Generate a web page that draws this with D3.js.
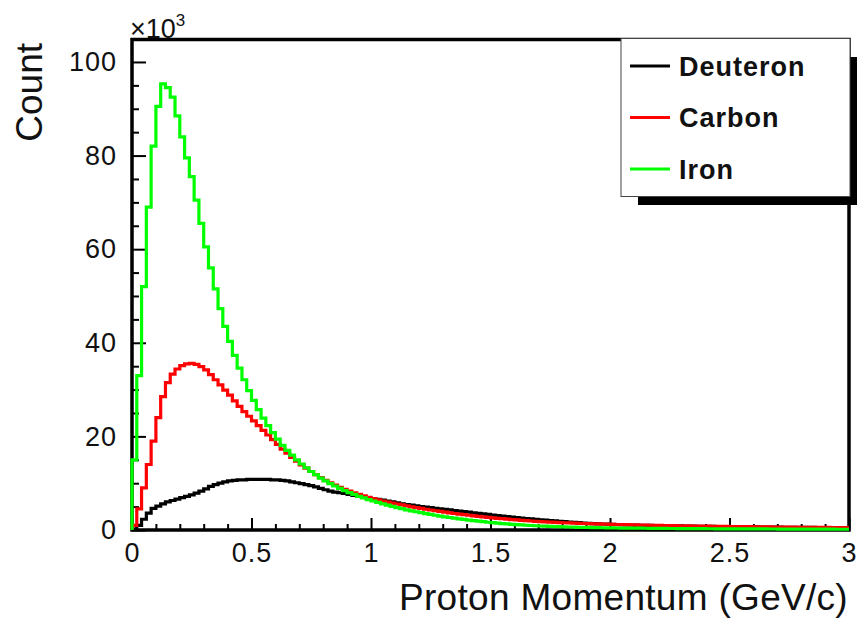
<!DOCTYPE html>
<html>
<head>
<meta charset="utf-8">
<script src="https://cdn.jsdelivr.net/npm/d3@7"></script>
<style>
  body { margin: 0; background: #fff; }
  text { font-family: "Liberation Sans", Arial, Helvetica, sans-serif; }
</style>
</head>
<body>
<div id="chart"></div>
<script>
// histogram bins: 0.02 GeV/c wide, counts in units of 10^3
var binWidth = 0.02;

var seriesNames = ["Deuteron", "Carbon", "Iron"];
var seriesColors = ["#000000", "#ff0000", "#00ff00"];

var deuteron = [
  0.2, 1.0, 2.3, 3.6, 4.6, 5.1, 5.6, 6.0, 6.3, 6.6,
  6.9, 7.2, 7.5, 7.9, 8.3, 8.8, 9.3, 9.7, 10.0, 10.3,
  10.5, 10.6, 10.7, 10.7, 10.8, 10.8, 10.8, 10.8, 10.8, 10.7,
  10.7, 10.6, 10.5, 10.3, 10.1, 9.9, 9.7, 9.5, 9.2, 8.9,
  8.6, 8.3, 8.1, 8.0, 7.8, 7.6, 7.4, 7.2, 7.0, 6.85,
  6.7, 6.55, 6.4, 6.2, 6.0, 5.8, 5.6, 5.45, 5.3, 5.15,
  5.0, 4.88, 4.76, 4.64, 4.52, 4.4, 4.28, 4.16, 4.04, 3.92,
  3.8, 3.68, 3.56, 3.44, 3.32, 3.2, 3.08, 2.96, 2.85, 2.74,
  2.64, 2.54, 2.45, 2.36, 2.27, 2.18, 2.1, 2.02, 1.94, 1.86,
  1.78, 1.71, 1.64, 1.57, 1.5, 1.44, 1.38, 1.33, 1.28, 1.24,
  1.2, 1.16, 1.13, 1.1, 1.07, 1.04, 1.02, 1.0, 0.98, 0.96,
  0.94, 0.92, 0.9, 0.88, 0.87, 0.85, 0.83, 0.82, 0.8, 0.79,
  0.77, 0.76, 0.75, 0.73, 0.72, 0.71, 0.7, 0.69, 0.68, 0.67,
  0.65, 0.64, 0.63, 0.62, 0.61, 0.6, 0.59, 0.58, 0.57, 0.56,
  0.55, 0.55, 0.54, 0.53, 0.52, 0.52, 0.51, 0.5, 0.5, 0.49
];

var carbon = [
  1, 4.5, 9, 14, 19, 24, 28.5, 31.5, 33.3, 34.4,
  35.1, 35.5, 35.6, 35.4, 34.9, 34.2, 33.2, 32.1, 31.0, 29.9,
  28.8, 27.6, 26.4, 25.3, 24.3, 23.3, 22.3, 21.3, 20.3, 19.3,
  18.3, 17.3, 16.4, 15.5, 14.7, 13.9, 13.2, 12.5, 11.8, 11.2,
  10.6, 10.1, 9.6, 9.1, 8.7, 8.3, 7.95, 7.6, 7.3, 7.0,
  6.7, 6.45, 6.2, 5.95, 5.75, 5.55, 5.35, 5.15, 4.95, 4.78,
  4.6, 4.43, 4.27, 4.11, 3.96, 3.81, 3.67, 3.53, 3.4, 3.27,
  3.15, 3.03, 2.92, 2.81, 2.7, 2.6, 2.5, 2.41, 2.32, 2.23,
  2.15, 2.07, 1.99, 1.92, 1.85, 1.79, 1.74, 1.69, 1.64, 1.59,
  1.55, 1.51, 1.47, 1.43, 1.39, 1.36, 1.33, 1.30, 1.27, 1.24,
  1.21, 1.18, 1.16, 1.13, 1.11, 1.08, 1.06, 1.04, 1.02, 1.0,
  0.98, 0.96, 0.94, 0.92, 0.91, 0.89, 0.87, 0.86, 0.84, 0.83,
  0.81, 0.8, 0.78, 0.77, 0.76, 0.74, 0.73, 0.72, 0.71, 0.7,
  0.68, 0.67, 0.66, 0.65, 0.64, 0.63, 0.62, 0.61, 0.6, 0.59,
  0.58, 0.57, 0.57, 0.56, 0.55, 0.54, 0.53, 0.53, 0.52, 0.51
];

var iron = [
  15, 33, 52, 69, 82, 90.5, 95.3, 94.5, 92.5, 88.5,
  84, 79.5, 75.5, 70.5, 65.5, 60.5, 56, 51.5, 47.3, 43.5,
  40.3, 37.3, 34.6, 32.1, 29.8, 27.7, 25.7, 23.9, 22.3, 20.8,
  19.4, 18.1, 17, 16, 15, 14.1, 13.3, 12.5, 11.8, 11.1,
  10.5, 9.9, 9.4, 8.9, 8.4, 8.0, 7.6, 7.2, 6.85, 6.5,
  6.2, 5.9, 5.6, 5.3, 5.05, 4.8, 4.55, 4.3, 4.1, 3.9,
  3.7, 3.5, 3.32, 3.15, 2.98, 2.82, 2.67, 2.52, 2.38, 2.25,
  2.12, 2.0, 1.88, 1.77, 1.66, 1.56, 1.47, 1.38, 1.3, 1.22,
  1.15, 1.08, 1.02, 0.96, 0.91, 0.86, 0.82, 0.78, 0.74, 0.7,
  0.67, 0.64, 0.61, 0.58, 0.56, 0.54, 0.52, 0.5, 0.48, 0.46,
  0.45, 0.43, 0.42, 0.41, 0.4, 0.39, 0.38, 0.37, 0.36, 0.35,
  0.34, 0.33, 0.32, 0.32, 0.31, 0.3, 0.3, 0.29, 0.28, 0.28,
  0.27, 0.27, 0.26, 0.26, 0.25, 0.25, 0.24, 0.24, 0.23, 0.23,
  0.22, 0.22, 0.22, 0.21, 0.21, 0.2, 0.2, 0.2, 0.19, 0.19,
  0.19, 0.18, 0.18, 0.18, 0.17, 0.17, 0.17, 0.16, 0.16, 0.16
];

var xMajorTicks = [0, 0.5, 1, 1.5, 2, 2.5, 3];
var xTickLabels = ["0", "0.5", "1", "1.5", "2", "2.5", "3"];
var yMajorTicks = [0, 20, 40, 60, 80, 100];
var yTickLabels = ["0", "20", "40", "60", "80", "100"];

var width = 857, height = 620;

var svg = d3.select("#chart").append("svg")
    .attr("width", width)
    .attr("height", height);

var x = d3.scaleLinear().domain([0, 3]).range([132, 849]);
var y = d3.scaleLinear().domain([0, 104.8]).range([530, 39.5]);

// minor ticks every 0.1 on x, every 5k on y
var xMinor = d3.range(0, 31).map(function(i){ return i / 10; })
    .filter(function(d){ return Math.abs(d * 2 - Math.round(d * 2)) > 1e-6; });
var yMinor = d3.range(0, 21).map(function(i){ return i * 5; })
    .filter(function(d){ return d % 20 !== 0; });

function clean(g){
  g.select(".domain").remove();
  g.selectAll("line").attr("stroke", "#000").attr("stroke-width", 2);
}

// x axis: ticks point up into the frame
svg.append("g")
    .attr("transform", "translate(0,530)")
    .call(d3.axisBottom(x).tickValues(xMinor).tickSize(-6).tickFormat(""))
    .call(clean);

svg.append("g")
    .attr("transform", "translate(0,530)")
    .call(d3.axisBottom(x).tickValues(xMajorTicks).tickSize(-12).tickPadding(13)
        .tickFormat(function(d, i){ return xTickLabels[i]; }))
    .call(clean)
    .selectAll("text")
    .attr("font-family", "Liberation Sans, Arial, sans-serif")
    .attr("font-size", 27)
    .attr("letter-spacing", 1)
    .attr("fill", "#111");

// y axis: ticks point right into the frame
svg.append("g")
    .attr("transform", "translate(132,0)")
    .call(d3.axisLeft(y).tickValues(yMinor).tickSize(-7).tickFormat(""))
    .call(clean);

svg.append("g")
    .attr("transform", "translate(132,0)")
    .call(d3.axisLeft(y).tickValues(yMajorTicks).tickSize(-14).tickPadding(15)
        .tickFormat(function(d, i){ return yTickLabels[i]; }))
    .call(clean)
    .selectAll("text")
    .attr("font-family", "Liberation Sans, Arial, sans-serif")
    .attr("font-size", 27)
    .attr("letter-spacing", 1)
    .attr("fill", "#111");

// frame
svg.append("rect")
    .attr("x", x(0)).attr("y", y(104.8))
    .attr("width", x(3) - x(0)).attr("height", y(0) - y(104.8))
    .attr("fill", "none").attr("stroke", "#000").attr("stroke-width", 3.5);

// histograms as step lines
var stepLine = d3.line()
    .x(function(d){ return x(d[0]); })
    .y(function(d){ return y(d[1]); })
    .curve(d3.curveStepAfter);

function histPoints(values){
  var pts = [[0, 0]];
  values.forEach(function(v, i){ pts.push([i * binWidth, v]); });
  pts.push([values.length * binWidth, values[values.length - 1]]);
  return pts;
}

[deuteron, carbon, iron].forEach(function(vals, k){
  svg.append("path")
      .attr("d", stepLine(histPoints(vals)))
      .attr("fill", "none")
      .attr("stroke", seriesColors[k])
      .attr("stroke-width", 3.2)
      .attr("stroke-linejoin", "miter");
});

// x10^3 multiplier
var mult = svg.append("text")
    .attr("x", 130).attr("y", 38)
    .attr("font-size", 27)
    .attr("fill", "#111");
mult.append("tspan").text("×10");
mult.append("tspan").attr("font-size", 17).attr("dy", -12).text("3");

// axis titles
svg.append("text")
    .attr("x", 848).attr("y", 610)
    .attr("text-anchor", "end")
    .attr("font-size", 37)
    .attr("letter-spacing", 0.3)
    .attr("fill", "#111")
    .text("Proton Momentum (GeV/c)");

svg.append("text")
    .attr("transform", "translate(42,43) rotate(-90)")
    .attr("text-anchor", "end")
    .attr("font-size", 37)
    .attr("fill", "#111")
    .text("Count");

// legend with shadow
var lg = svg.append("g");
lg.append("rect")
    .attr("x", 638).attr("y", 57).attr("width", 219).attr("height", 148)
    .attr("fill", "#000");
lg.append("rect")
    .attr("x", 621).attr("y", 38.5).attr("width", 229).attr("height", 158)
    .attr("fill", "#fff").attr("stroke", "#444").attr("stroke-width", 1);

var legendY = [66, 117.5, 169];
seriesNames.forEach(function(name, k){
  lg.append("line")
      .attr("x1", 630).attr("x2", 670)
      .attr("y1", legendY[k]).attr("y2", legendY[k])
      .attr("stroke", seriesColors[k]).attr("stroke-width", 3.2);
  lg.append("text")
      .attr("x", 679).attr("y", legendY[k] + 9.5)
      .attr("font-size", 27)
      .attr("font-weight", "bold")
      .attr("letter-spacing", 1)
      .attr("fill", "#111")
      .text(name);
});
</script>
</body>
</html>
